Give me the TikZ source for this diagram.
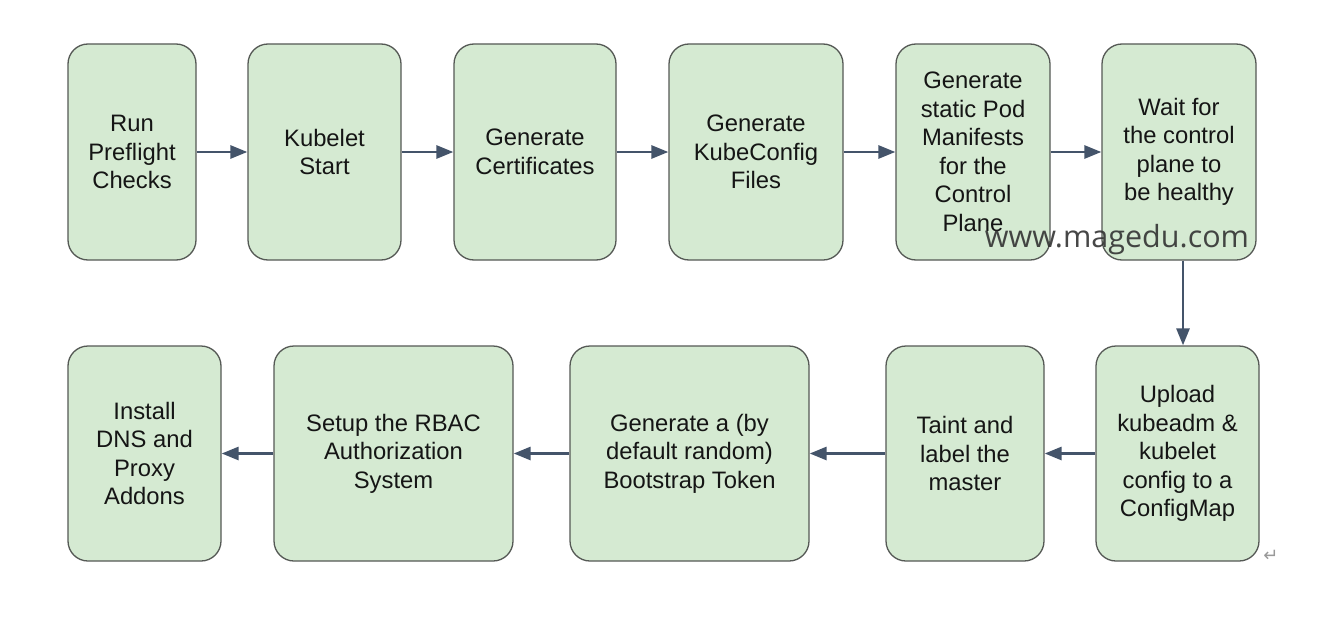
\documentclass[tikz,border=0pt]{standalone}
\usepackage{fontspec}
\setmainfont{Liberation Sans}
\newfontfamily\wmfont{Open Sans}
\newfontfamily\symfont{DejaVu Sans}
\usetikzlibrary{arrows.meta}
\definecolor{boxfill}{HTML}{D5EAD2}
\definecolor{boxline}{HTML}{555955}
\definecolor{arrowcol}{HTML}{44546A}
\definecolor{txtcol}{HTML}{151515}
\begin{document}
\begin{tikzpicture}[x=1pt,y=-1pt,
  stepbox/.style={draw=boxline, line width=1.3pt, fill=boxfill, rounded corners=20pt,
    align=center, text=txtcol, inner sep=0pt,
    font=\fontsize{23.8}{28.5}\selectfont},
  flow/.style={draw=arrowcol, line width=2.8pt, -{Triangle[length=17pt,width=13pt]}}]
\useasboundingbox (0,0) rectangle (1332,618);
\fill[white] (0,0) rectangle (1332,618);
% boxes: name, center x, center y, width, height, text
\newcommand{\mkbox}[6]{\node[stepbox, minimum width=#4pt, minimum height=#5pt] (#1) at (#2,#3) {#6};}
\mkbox{b1}{132}{152}{128}{216}{Run\\Preflight\\Checks}
\mkbox{b2}{324.5}{152}{153}{216}{Kubelet\\Start}
\mkbox{b3}{535}{152}{162}{216}{Generate\\Certificates}
\mkbox{b4}{756}{152}{174}{216}{Generate\\KubeConfig\\Files}
\mkbox{b5}{973}{152}{154}{216}{Generate\\static Pod\\Manifests\\for the\\Control\\Plane}
\mkbox{b6}{1179}{152}{154}{216}{Wait for\\the control\\plane to\\be healthy}
\mkbox{b7}{1177.5}{453.5}{163}{215}{Upload\\kubeadm \&\\kubelet\\config to a\\ConfigMap}
\mkbox{b8}{965}{453.5}{158}{215}{Taint and\\label the\\master}
\mkbox{b9}{689.5}{453.5}{239}{215}{Generate a (by\\default random)\\Bootstrap Token}
\mkbox{b10}{393.5}{453.5}{239}{215}{Setup the RBAC\\Authorization\\System}
\mkbox{b11}{144.5}{453.5}{153}{215}{Install\\DNS and\\Proxy\\Addons}
\draw[flow] (b1) -- (b2);
\draw[flow] (b2) -- (b3);
\draw[flow] (b3) -- (b4);
\draw[flow] (b4) -- (b5);
\draw[flow] (b5) -- (b6);
\draw[flow] (b6.south -| 1183,0) -- (b7.north -| 1183,0);
\draw[flow] (b7) -- (b8);
\draw[flow] (b8) -- (b9);
\draw[flow] (b9) -- (b10);
\draw[flow] (b10) -- (b11);
\node[font=\wmfont\fontsize{30.5}{32}\selectfont, text=black!80, opacity=0.9, inner sep=0pt] (wm) at (1117,240) {www.magedu.com};
\node[font=\symfont\fontsize{18}{20}\selectfont, text=black!40, inner sep=0pt] (ret) at (1271,556) {↵};
\end{tikzpicture}
\end{document}
